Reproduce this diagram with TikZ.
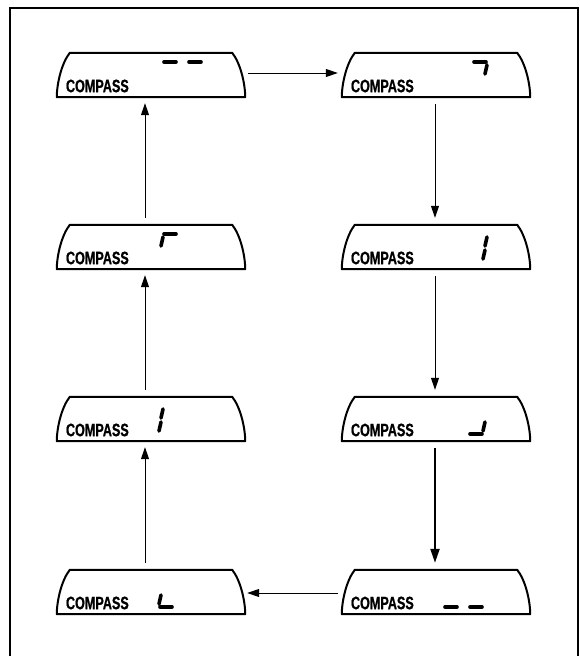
\documentclass[tikz,border=0pt]{standalone}
\usepackage{fontspec}
\newfontfamily\dispfont[FakeStretch=0.7, BoldFeatures={FakeBold=0.7}]{Liberation Sans}
\usetikzlibrary{arrows.meta}

\begin{document}
\begin{tikzpicture}[x=1pt, y=-1pt,
  disp/.style = {minimum width=188pt, minimum height=44pt, inner sep=0pt},
  dispedge/.style = {line width=2pt, line join=round},
  lbl/.style = {font=\dispfont\bfseries\fontsize{18}{18}\selectfont, inner sep=0pt},
  seg/.style = {line width=3.6pt, line cap=round},
  flow/.style = {line width=1pt, -{Triangle[length=12pt, width=8pt]}},
  bigflow/.style = {line width=2.2pt, -{Triangle[length=14pt, width=9pt]}}]

\useasboundingbox (0,0) rectangle (580,656);
\draw[line width=2.4pt] (10,8) rectangle (578,662);

%% displays
\node[disp] (d1) at (151, 75) {};
\node[disp] (d2) at (436, 75) {};
\node[disp] (d3) at (151, 247) {};
\node[disp] (d4) at (436, 247) {};
\node[disp] (d5) at (151, 419) {};
\node[disp] (d6) at (436, 419) {};
\node[disp] (d7) at (151, 592) {};
\node[disp] (d8) at (436, 592) {};

\foreach \n in {d1,d2,d3,d4,d5,d6,d7,d8} {
  \draw[dispedge] ([xshift=13pt]\n.north west) -- ([xshift=-13pt]\n.north east)
    .. controls +(8,10) and +(0,-14) .. (\n.south east) -- (\n.south west)
    .. controls +(0,-14) and +(-8,10) .. cycle;
  \node[lbl, anchor=base west] at ([xshift=9pt, yshift=5pt]\n.south west) {COMPASS};
}

%% segments
\draw[seg] (164, 62) -- (176, 62);
\draw[seg] (189, 62) -- (201, 62);

\draw[seg] (474, 62) -- (486, 62);
\draw[seg] (487, 65) -- (485, 74);

\draw[seg] (164, 234) -- (176, 234);
\draw[seg] (163, 237) -- (161, 246);

\draw[seg] (487, 237) -- (485, 246);
\draw[seg] (485, 250) -- (483, 259);

\draw[seg] (163, 409) -- (161, 418);
\draw[seg] (161, 422) -- (159, 431);

\draw[seg] (485, 422) -- (483, 431);
\draw[seg] (470, 434) -- (482, 434);

\draw[seg] (161, 595) -- (159, 604);
\draw[seg] (160, 607) -- (172, 607);

\draw[seg] (445, 607) -- (457, 607);
\draw[seg] (470, 607) -- (482, 607);

%%% arrows
\draw[flow, shorten <=3pt, shorten >=4pt] ([yshift=2pt]d1.east) -- ([yshift=2pt]d2.west);
\draw[flow, shorten <=7pt, shorten >=7pt] ([xshift=-1pt]d2.south) -- ([xshift=-1pt]d4.north);
\draw[flow, shorten <=7pt, shorten >=7pt] ([xshift=-1pt]d4.south) -- ([xshift=-1pt]d6.north);
\draw[bigflow, shorten <=7pt, shorten >=7pt] ([xshift=-1pt]d6.south) -- ([xshift=-1pt]d8.north);
\draw[flow, shorten <=4pt, shorten >=2pt] ([yshift=-1pt]d8.west) -- ([yshift=-1pt]d7.east);
\draw[flow, shorten <=7pt, shorten >=6pt] ([xshift=-6pt]d7.north) -- ([xshift=-6pt]d5.south);
\draw[flow, shorten <=7pt, shorten >=6pt] ([xshift=-6pt]d5.north) -- ([xshift=-6pt]d3.south);
\draw[flow, shorten <=7pt, shorten >=6pt] ([xshift=-6pt]d3.north) -- ([xshift=-6pt]d1.south);

\end{tikzpicture}
\end{document}
